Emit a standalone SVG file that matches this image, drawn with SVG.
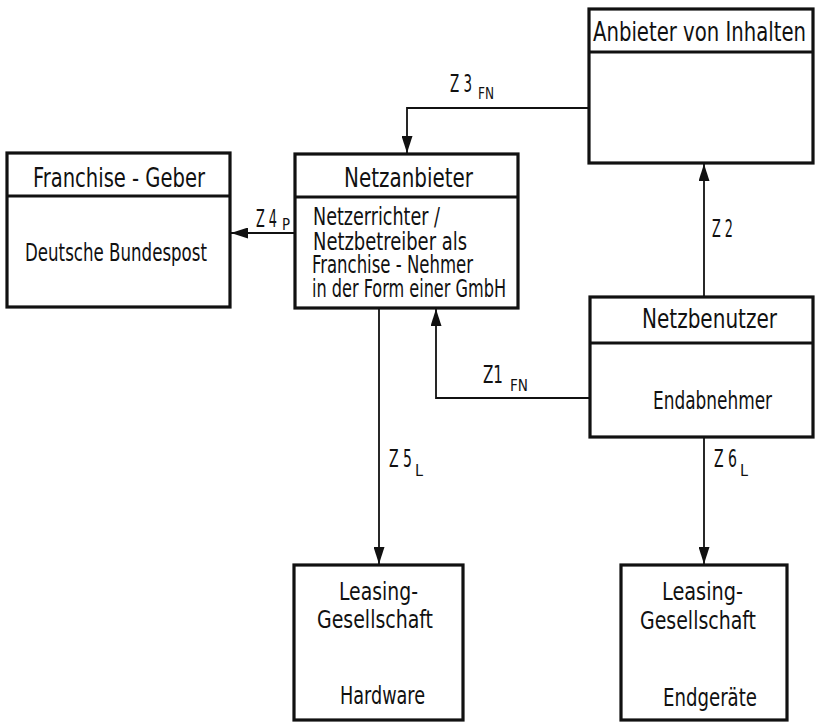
<svg xmlns="http://www.w3.org/2000/svg" width="815" height="722" viewBox="0 0 815 722">
  <style>
    .box { fill: #fff; stroke: #111; stroke-width: 3.2; }
    .sep { stroke: #111; stroke-width: 3.2; }
    .wire { fill: none; stroke: #111; stroke-width: 1.8; }
    text { font-family: "DejaVu Sans Condensed", "Liberation Sans Narrow", "Liberation Sans", sans-serif; fill: #111; }
    .h { font-size: 26px; }
    .b { font-size: 24px; }
    .lbl { font-size: 24px; }
    .sub { font-size: 16px; }
  </style>
  <defs>
    <marker id="arrow" viewBox="0 0 17 11" refX="17" refY="5.5" markerWidth="17" markerHeight="11" markerUnits="userSpaceOnUse" orient="auto">
      <path d="M0,0 L17,5.5 L0,11 Z" fill="#111"/>
    </marker>
  </defs>
  <rect width="815" height="722" fill="#fff"/>

  <!-- connectors and their flow labels -->
  <g id="connectors">
    <path class="wire" d="M589,108 H407 V153" marker-end="url(#arrow)"/>
    <path class="wire" d="M295,233 H231" marker-end="url(#arrow)"/>
    <path class="wire" d="M704,296 V164" marker-end="url(#arrow)"/>
    <path class="wire" d="M590,398 H436 V309" marker-end="url(#arrow)"/>
    <path class="wire" d="M379,308 V564" marker-end="url(#arrow)"/>
    <path class="wire" d="M704,437 V564" marker-end="url(#arrow)"/>
    <text class="lbl" x="450" y="92" textLength="22" lengthAdjust="spacingAndGlyphs">Z 3</text>
    <text class="sub" x="478" y="99" textLength="16" lengthAdjust="spacingAndGlyphs">FN</text>
    <text class="lbl" x="256" y="227" textLength="21" lengthAdjust="spacingAndGlyphs">Z 4</text>
    <text class="sub" x="282" y="230" textLength="8" lengthAdjust="spacingAndGlyphs">P</text>
    <text class="lbl" x="712" y="237" textLength="21" lengthAdjust="spacingAndGlyphs">Z 2</text>
    <text class="lbl" x="483" y="383" textLength="20" lengthAdjust="spacingAndGlyphs">Z1</text>
    <text class="sub" x="510" y="391" textLength="18" lengthAdjust="spacingAndGlyphs">FN</text>
    <text class="lbl" x="389" y="467" textLength="23" lengthAdjust="spacingAndGlyphs">Z 5</text>
    <text class="sub" x="415" y="476" textLength="8" lengthAdjust="spacingAndGlyphs">L</text>
    <text class="lbl" x="714" y="467" textLength="23" lengthAdjust="spacingAndGlyphs">Z 6</text>
    <text class="sub" x="740" y="476" textLength="8" lengthAdjust="spacingAndGlyphs">L</text>
  </g>

  <!-- content provider -->
  <g id="anbieter">
    <rect class="box" x="589" y="9" width="224" height="154"/>
    <line class="sep" x1="589" y1="52" x2="813" y2="52"/>
    <text class="h" x="593" y="41" textLength="213" lengthAdjust="spacingAndGlyphs">Anbieter von Inhalten</text>
  </g>

  <!-- franchisor -->
  <g id="franchise-geber">
    <rect class="box" x="7" y="153" width="223" height="154"/>
    <line class="sep" x1="7" y1="196" x2="230" y2="196"/>
    <text class="h" x="33" y="187" textLength="172" lengthAdjust="spacingAndGlyphs">Franchise - Geber</text>
    <text class="b" x="25" y="261" textLength="182" lengthAdjust="spacingAndGlyphs">Deutsche Bundespost</text>
  </g>

  <!-- network provider -->
  <g id="netzanbieter">
    <rect class="box" x="295" y="154" width="223" height="154"/>
    <line class="sep" x1="295" y1="197" x2="518" y2="197"/>
    <text class="h" x="344" y="187" textLength="129" lengthAdjust="spacingAndGlyphs">Netzanbieter</text>
    <text class="b" x="313" y="225" textLength="127" lengthAdjust="spacingAndGlyphs">Netzerrichter /</text>
    <text class="b" x="313" y="250" textLength="154" lengthAdjust="spacingAndGlyphs">Netzbetreiber als</text>
    <text class="b" x="312" y="273" textLength="161" lengthAdjust="spacingAndGlyphs">Franchise - Nehmer</text>
    <text class="b" x="312" y="297" textLength="194" lengthAdjust="spacingAndGlyphs">in der Form einer GmbH</text>
  </g>

  <!-- network user -->
  <g id="netzbenutzer">
    <rect class="box" x="590" y="297" width="223" height="140"/>
    <line class="sep" x1="590" y1="343" x2="813" y2="343"/>
    <text class="h" x="642" y="328" textLength="135" lengthAdjust="spacingAndGlyphs">Netzbenutzer</text>
    <text class="b" x="653" y="409" textLength="119" lengthAdjust="spacingAndGlyphs">Endabnehmer</text>
  </g>

  <!-- leasing: hardware -->
  <g id="leasing-hardware">
    <rect class="box" x="294" y="565" width="169" height="155"/>
    <text class="b" x="339" y="600" textLength="79" lengthAdjust="spacingAndGlyphs">Leasing-</text>
    <text class="b" x="317" y="628" textLength="116" lengthAdjust="spacingAndGlyphs">Gesellschaft</text>
    <text class="b" x="340" y="704" textLength="85" lengthAdjust="spacingAndGlyphs">Hardware</text>
  </g>

  <!-- leasing: terminal devices -->
  <g id="leasing-endgeraete">
    <rect class="box" x="621" y="565" width="166" height="155"/>
    <text class="b" x="662" y="600" textLength="81" lengthAdjust="spacingAndGlyphs">Leasing-</text>
    <text class="b" x="640" y="629" textLength="116" lengthAdjust="spacingAndGlyphs">Gesellschaft</text>
    <text class="b" x="663" y="706" textLength="94" lengthAdjust="spacingAndGlyphs">Endgeräte</text>
  </g>
</svg>
